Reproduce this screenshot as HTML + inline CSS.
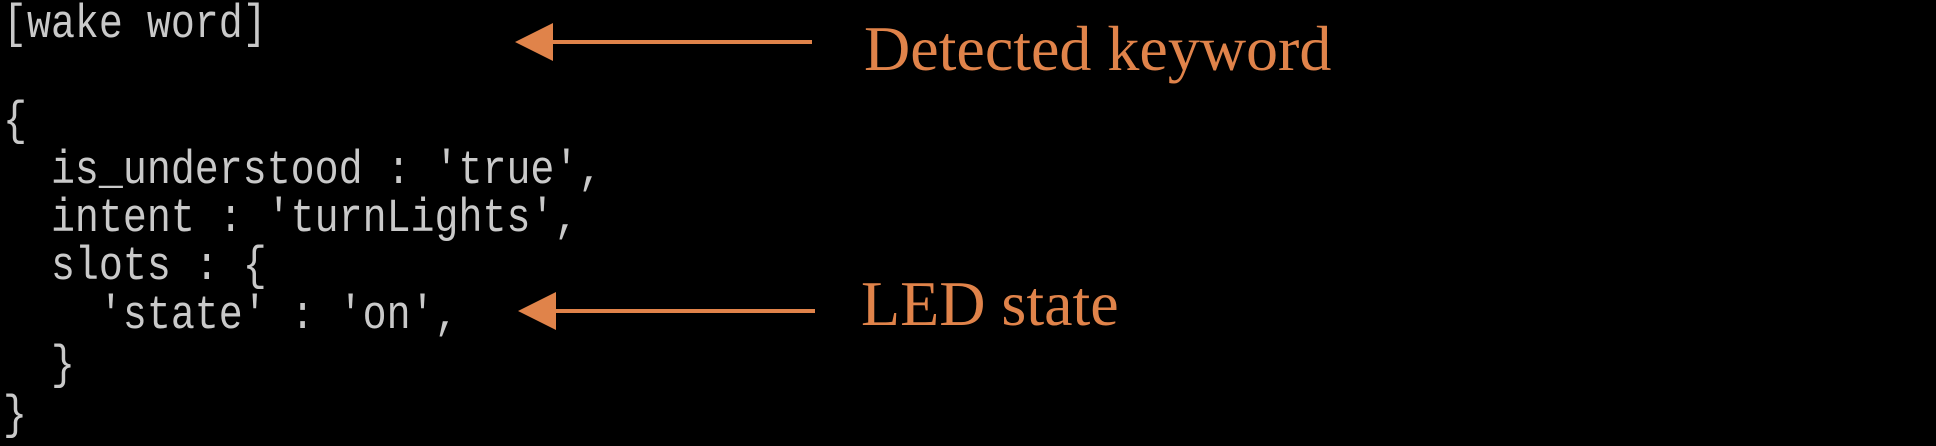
<!DOCTYPE html>
<html><head><meta charset="utf-8"><style>
html,body{margin:0;padding:0;background:#000;width:1936px;height:446px;overflow:hidden}
.code{position:absolute;left:3px;font-family:"Liberation Mono",monospace;font-size:47px;color:#c9c9c9;white-space:pre;line-height:47px;transform:scaleX(0.85);transform-origin:0 0}
.lbl{position:absolute;font-family:"Liberation Serif",serif;font-size:64px;color:#e0834a;white-space:pre;line-height:64px}
</style></head><body>
<div>
<div class="code" style="top:2px">[wake word]</div>
<div class="code" style="top:99px">{</div>
<div class="code" style="top:148px">  is_understood : 'true',</div>
<div class="code" style="top:196px">  intent : 'turnLights',</div>
<div class="code" style="top:244px">  slots : {</div>
<div class="code" style="top:293px">    'state' : 'on',</div>
<div class="code" style="top:343px">  }</div>
<div class="code" style="top:393px">}</div>
</div>
<svg width="1936" height="446" style="position:absolute;left:0;top:0">
<g>
<line x1="548" y1="42" x2="812" y2="42" stroke="#e0834a" stroke-width="4"/>
<polygon points="515,42 553,23 553,61" fill="#e0834a"/>
</g>
<g>
<line x1="550" y1="311" x2="815" y2="311" stroke="#e0834a" stroke-width="4"/>
<polygon points="518,311 556,292 556,330" fill="#e0834a"/>
</g>
</svg>
<div class="lbl" style="left:864px;top:17px">Detected keyword</div>
<div class="lbl" style="left:861px;top:272px">LED state</div>
</body></html>
